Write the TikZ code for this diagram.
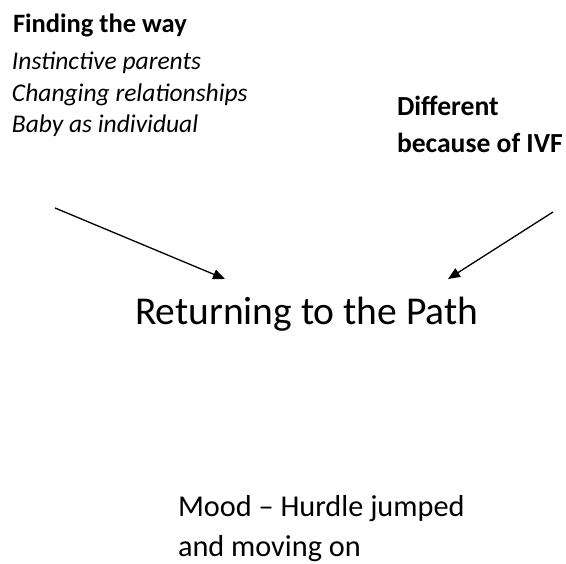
\documentclass[tikz,border=0pt]{standalone}
\usepackage{fontspec}
\setmainfont{Carlito}
\usetikzlibrary{arrows.meta}
\begin{document}
\begin{tikzpicture}[x=1pt,y=1pt,
  lbl/.style={anchor=base west,inner sep=0pt,outer sep=0pt},
  head/.style={lbl,font=\fontsize{26.5}{32}\selectfont\bfseries},
  item/.style={lbl,font=\fontsize{25.5}{30}\selectfont\itshape},
  note/.style={lbl,font=\fontsize{27.6}{33}\selectfont\bfseries},
  mood/.style={lbl,font=\fontsize{30.3}{36}\selectfont},
  title/.style={lbl,font=\fontsize{39.5}{46}\selectfont},
  link/.style={draw=black,line width=1.3pt,-{Triangle[length=12pt,width=10pt]}}]
\useasboundingbox (0,0) rectangle (566,564);
% left group: the way back
\node[head] (find) at (13,531) {Finding the way};
\node[item] (inst) at (12,494) {Instinctive parents};
\node[item] (chg)  at (12,462) {Changing relationships};
\node[item] (baby) at (12,431) {Baby as individual};
% right group
\node[note] (diff) at (397,448) {Different};
\node[note] (ivf)  at (397,411) {because of IVF};
% central theme
\node[title] (path) at (135,239) {Returning to the Path};
% mood below
\node[mood] (mood) at (178,47) {Mood -- Hurdle jumped};
\node[mood] (move) at (178,7) {and moving on};
% arrows into the theme
\coordinate (lstart) at (55,356);
\coordinate (rstart) at (553,352);
\coordinate (lend) at (225,285);
\coordinate (rend) at (448,285);
\draw[link] (lstart) -- (lend);
\draw[link] (rstart) -- (rend);
\end{tikzpicture}
\end{document}
